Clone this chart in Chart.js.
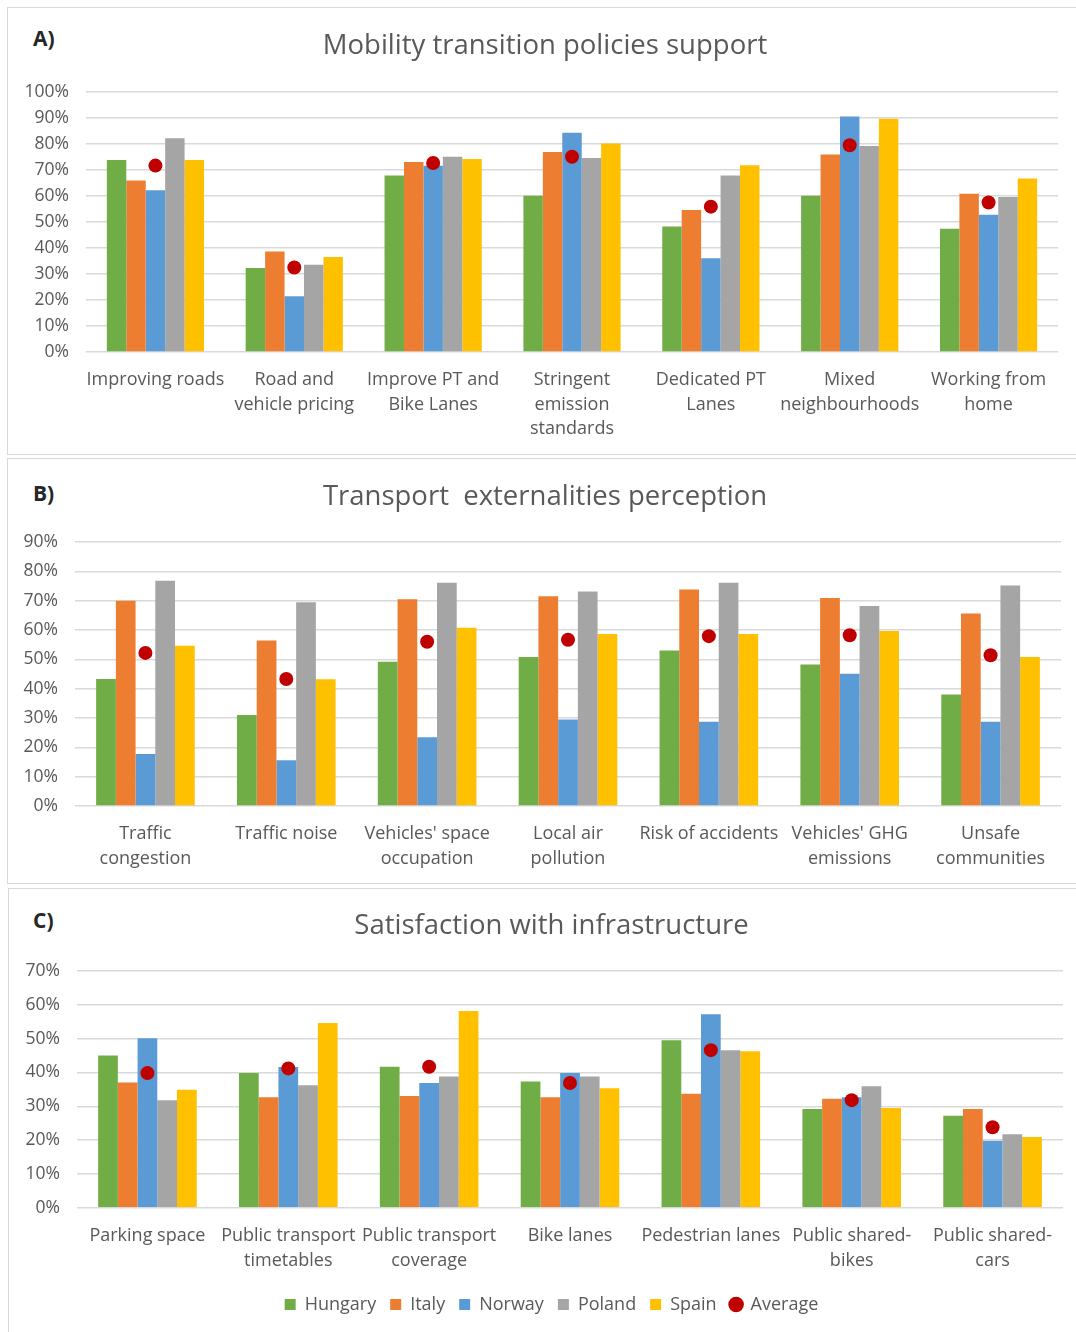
<!DOCTYPE html>
<html>
<head>
<meta charset="utf-8">
<script src="https://cdn.jsdelivr.net/npm/chart.js@4"></script>
<style>
  html, body { margin: 0; padding: 0; background: #ffffff; }
  body { width: 1076px; height: 1332px; position: relative; overflow: hidden; font-family: 'Open Sans', sans-serif; }
  .box { position: absolute; border: 1.5px solid #d9d9d9; box-sizing: border-box; }
  .tag { position: absolute; font-weight: bold; font-size: 21px; color: #262626; line-height: 1; }
  canvas { position: absolute; left: 0; }
</style>
</head>
<body>
<div class="box" style="left:7px; top:7px; width:1080px; height:448px;"></div>
<div class="box" style="left:7px; top:458px; width:1080px; height:426px;"></div>
<div class="box" style="left:8px; top:888px; width:1080px; height:450px;"></div>

<div class="tag" style="left:33px; top:28px;">A)</div>
<div class="tag" style="left:33px; top:483px;">B)</div>
<div class="tag" style="left:33px; top:910px;">C)</div>

<canvas id="chartA" width="1076" height="455" style="top:0px;"></canvas>
<canvas id="chartB" width="1076" height="425" style="top:458px;"></canvas>
<canvas id="chartC" width="1076" height="446" style="top:886px;"></canvas>

<script>
// Country series and colours
const countries = ['Hungary', 'Italy', 'Norway', 'Poland', 'Spain'];
const countryColors = ['#70AD47', '#ED7D31', '#5B9BD5', '#A5A5A5', '#FFC000'];
const averageColor = '#C00000';

// A) Mobility transition policies support (%)
const policyLabels = [
  'Improving roads', ['Road and', 'vehicle pricing'], ['Improve PT and', 'Bike Lanes'],
  ['Stringent', 'emission', 'standards'], ['Dedicated PT', 'Lanes'], ['Mixed', 'neighbourhoods'], ['Working from', 'home']
];
const policyHungary = [73.8, 32.3, 67.9, 60.1, 48.3, 60.1, 47.4];
const policyItaly   = [66.0, 38.7, 73.1, 76.9, 54.6, 76.0, 60.9];
const policyNorway  = [62.2, 21.4, 71.6, 84.3, 36.1, 90.6, 52.8];
const policyPoland  = [82.2, 33.6, 75.1, 74.6, 67.9, 79.2, 59.6];
const policySpain   = [73.8, 36.5, 74.2, 80.2, 71.8, 89.7, 66.7];
const policyAverage = [71.7, 32.5, 72.7, 75.1, 55.9, 79.5, 57.5];

// B) Transport externalities perception (%)
const externalityLabels = [
  ['Traffic', 'congestion'], 'Traffic noise', ["Vehicles' space", 'occupation'], ['Local air', 'pollution'],
  'Risk of accidents', ["Vehicles' GHG", 'emissions'], ['Unsafe', 'communities']
];
const externalityHungary = [43.3, 31.0, 49.2, 50.8, 53.0, 48.2, 38.0];
const externalityItaly   = [70.0, 56.4, 70.5, 71.5, 73.8, 70.9, 65.6];
const externalityNorway  = [17.7, 15.6, 23.4, 29.5, 28.7, 45.1, 28.7];
const externalityPoland  = [76.8, 69.5, 76.1, 73.1, 76.1, 68.2, 75.2];
const externalitySpain   = [54.6, 43.2, 60.8, 58.6, 58.6, 59.7, 50.8];
const externalityAverage = [52.2, 43.3, 56.0, 56.7, 57.9, 58.2, 51.4];

// C) Satisfaction with infrastructure (%)
const infraLabels = [
  'Parking space', ['Public transport', 'timetables'], ['Public transport', 'coverage'], 'Bike lanes',
  'Pedestrian lanes', ['Public shared-', 'bikes'], ['Public shared-', 'cars']
];
const infraHungary = [45.0, 39.8, 41.7, 37.3, 49.5, 29.2, 27.2];
const infraItaly   = [37.0, 32.7, 33.0, 32.7, 33.7, 32.2, 29.2];
const infraNorway  = [50.1, 41.6, 36.9, 39.8, 57.2, 32.7, 19.8];
const infraPoland  = [31.8, 36.2, 38.8, 38.8, 46.6, 35.9, 21.7];
const infraSpain   = [34.9, 54.6, 58.2, 35.3, 46.3, 29.5, 20.9];
const infraAverage = [39.8, 41.2, 41.7, 36.9, 46.6, 31.8, 23.8];

const FONT = "'Open Sans', sans-serif";
const TEXT = '#595959';

function buildDatasets(seriesList, averages) {
  const ds = seriesList.map((values, i) => ({
    type: 'bar',
    label: countries[i],
    data: values,
    backgroundColor: countryColors[i],
    borderWidth: 0,
    categoryPercentage: 0.7,
    barPercentage: 1.0,
    order: 1
  }));
  ds.push({
    type: 'line',
    label: 'Average',
    data: averages,
    showLine: false,
    pointStyle: 'circle',
    pointRadius: 7,
    pointHoverRadius: 7,
    pointBackgroundColor: averageColor,
    pointBorderColor: averageColor,
    pointBorderWidth: 0,
    backgroundColor: averageColor,
    borderColor: averageColor,
    order: 0
  });
  return ds;
}

function makePanel(id, p) {
  const canvas = document.getElementById(id);
  const padLeft = p.padLeft;
  return new Chart(canvas.getContext('2d'), {
    type: 'bar',
    data: { labels: p.labels, datasets: buildDatasets(p.series, p.average) },
    options: {
      responsive: false,
      animation: false,
      events: [],
      layout: { padding: { left: padLeft, right: 1076 - p.right, top: 0, bottom: p.padBottom || 0 } },
      plugins: {
        title: {
          display: true,
          text: p.title,
          color: TEXT,
          font: { family: FONT, size: 27.5, weight: 'normal', lineHeight: 1.2 },
          padding: { top: p.titleTop, bottom: p.titleBottom }
        },
        legend: p.legend ? {
          display: true,
          position: 'bottom',
          labels: {
            color: TEXT,
            font: { family: FONT, size: 18 },
            usePointStyle: true,
            boxWidth: 11,
            boxHeight: 11,
            padding: 14,
            sort: (a, b) => a.datasetIndex - b.datasetIndex,
            generateLabels: (chart) => {
              const items = Chart.defaults.plugins.legend.labels.generateLabels(chart);
              items.forEach(it => {
                const ds = chart.data.datasets[it.datasetIndex];
                it.pointStyle = ds.type === 'line' ? 'circle' : 'rect';
                it.fillStyle = ds.type === 'line' ? averageColor : ds.backgroundColor;
                it.strokeStyle = it.fillStyle;
                it.lineWidth = 0;
              });
              return items;
            }
          }
        } : { display: false },
        tooltip: { enabled: false }
      },
      scales: {
        x: {
          grid: { display: false, drawTicks: false },
          border: { display: false },
          ticks: {
            color: TEXT,
            font: { family: FONT, size: 18, lineHeight: 1.36 },
            padding: p.xPad,
            autoSkip: false,
            maxRotation: 0,
            minRotation: 0
          },
          afterFit: (scale) => {
            const lg = scale.chart.legend;
            const lh = (p.legend && lg) ? lg.height : 0;
            scale.height = canvas.height - (p.padBottom || 0) - lh - p.bottom;
          }
        },
        y: {
          min: 0,
          max: p.max,
          grid: { color: '#d9d9d9', lineWidth: 1.5, drawTicks: false },
          border: { display: false },
          ticks: {
            stepSize: 10,
            color: TEXT,
            font: { family: FONT, size: 17.5 },
            padding: 17,
            callback: (v) => v + '%'
          },
          afterFit: (scale) => {
            scale.width = p.left - padLeft;
            // let the percentage labels extend into the left margin
            scale._computeLabelArea = () => undefined;
          }
        }
      }
    }
  });
}

makePanel('chartA', {
  title: 'Mobility transition policies support',
  labels: policyLabels,
  series: [policyHungary, policyItaly, policyNorway, policyPoland, policySpain],
  average: policyAverage,
  max: 100, left: 86, right: 1058, bottom: 352, padLeft: 32,
  titleTop: 29.5, titleBottom: 29.5, xPad: 16
});

makePanel('chartB', {
  title: 'Transport  externalities perception',
  labels: externalityLabels,
  series: [externalityHungary, externalityItaly, externalityNorway, externalityPoland, externalitySpain],
  average: externalityAverage,
  max: 90, left: 75, right: 1061, bottom: 348, padLeft: 29,
  titleTop: 22.5, titleBottom: 28.5, xPad: 16
});

makePanel('chartC', {
  title: 'Satisfaction with infrastructure',
  labels: infraLabels,
  series: [infraHungary, infraItaly, infraNorway, infraPoland, infraSpain],
  average: infraAverage,
  max: 70, left: 77, right: 1063, bottom: 321.7, padLeft: 40,
  titleTop: 23.5, titleBottom: 28.5, xPad: 16,
  legend: true, padBottom: 8.5
});
</script>
</body>
</html>
